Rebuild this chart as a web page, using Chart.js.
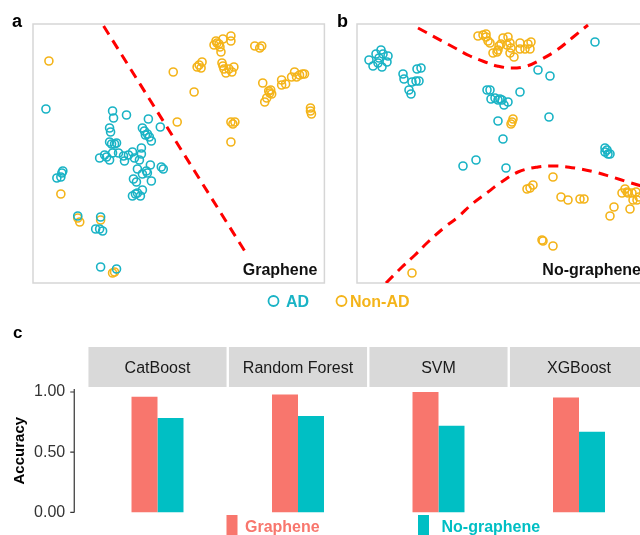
<!DOCTYPE html>
<html>
<head>
<meta charset="utf-8">
<script src="https://cdn.jsdelivr.net/npm/chart.js@4.4.1/dist/chart.umd.min.js"></script>
<style>
  html, body { margin: 0; padding: 0; background: #fff; overflow: hidden; width: 640px; height: 535px; }
  canvas { position: absolute; }
  #panelA { left: 0; top: 0; }
  #panelB { left: 330px; top: 0; }
  #panelC { left: 0; top: 288px; }
</style>
</head>
<body>
<canvas id="panelA" width="330" height="290"></canvas>
<canvas id="panelB" width="330" height="290"></canvas>
<canvas id="panelC" width="660" height="256"></canvas>
<script>
(function() {
    const FONT = "'Liberation Sans', Arial, Helvetica, sans-serif";
    Chart.defaults.font.family = FONT;

    const AD_COLOR = '#19B3C5';
    const NONAD_COLOR = '#F4B41A';
    const BOUNDARY_RED = '#FF0000';
    const GRAPHENE_FILL = '#F8766D';
    const NOGRAPHENE_FILL = '#00BFC4';

    // panel a: embedding of the graphene sensor data (plot units, y grows downward)
    const grapheneRangeX = [33, 326];
    const grapheneRangeY = [24, 283];
    const grapheneAD = [
        [46,109],[113,111],[114,118],[127,115],[149,119],[161,127],[110,128],[111,132],
        [143,128],[145,131],[148,134],[150,137],[152,141],[146,135],[110,142],[112,144],
        [115,144],[117,143],[100,158],[105,155],[107,157],[110,160],[113,153],[119,153],
        [124,156],[125,161],[129,155],[133,152],[135,158],[140,160],[142,154],[142,148],
        [138,169],[143,174],[147,171],[148,173],[151,165],[162,167],[164,169],[134,179],
        [137,182],[152,181],[133,196],[136,194],[138,193],[141,196],[143,190],[57,178],
        [61,177],[62,173],[63,171],[78,216],[101,217],[96,229],[100,229],[103,231],
        [101,267],[117,269]
    ];
    const grapheneNonAD = [
        [49,61],[174,72],[195,92],[178,122],[215,45],[217,41],[218,43],[220,44],[221,47],
        [222,52],[224,39],[232,36],[232,41],[200,65],[203,62],[202,68],[198,67],[223,63],
        [224,66],[225,69],[227,73],[230,69],[233,72],[235,67],[256,46],[261,48],[263,46],
        [264,83],[270,91],[272,90],[273,94],[271,93],[268,98],[266,102],[283,80],[283,85],
        [287,84],[293,77],[296,72],[298,77],[301,75],[304,74],[306,74],[312,108],[312,111],
        [313,114],[232,122],[234,124],[236,122],[232,142],[61,194],[78,218],[80,222],
        [101,220],[113,273],[115,272]
    ];
    const grapheneBoundary = [[104,26],[249,256]];

    // panel b: embedding without graphene
    const noGrapheneRangeX = [357, 648];
    const noGrapheneRangeY = [24, 283];
    const noGrapheneAD = [
        [369,60],[373,66],[376,54],[378,63],[381,50],[382,67],[383,54],[387,62],[388,56],
        [379,58],[403,74],[404,79],[409,90],[411,94],[412,82],[416,81],[417,69],[421,68],
        [419,81],[487,90],[490,90],[491,99],[495,98],[498,100],[500,99],[502,100],[504,105],
        [508,102],[520,92],[498,121],[503,139],[538,70],[550,76],[549,117],[595,42],
        [463,166],[476,160],[506,168],[605,148],[607,150],[605,152],[608,154],[610,154]
    ];
    const noGrapheneNonAD = [
        [478,36],[483,35],[486,37],[488,41],[490,43],[486,34],[493,53],[498,50],[499,46],
        [503,38],[508,37],[510,43],[507,45],[501,44],[497,52],[511,48],[510,53],[514,57],
        [520,43],[520,49],[525,49],[528,44],[531,42],[530,49],[511,124],[512,122],[513,119],
        [527,189],[530,188],[533,185],[553,177],[561,197],[568,200],[580,199],[584,199],
        [542,240],[543,241],[553,246],[610,216],[614,207],[630,209],[622,193],[625,189],
        [627,192],[628,193],[632,193],[633,200],[636,192],[637,200],[639,197],[412,273]
    ];
    const noGrapheneUpper = [
        [418,28],[442,41],[455,48],[470,56],[488,63],[497,66],[512,68],[527,66],[542,59],
        [557,50],[572,38],[588,25]
    ];
    const noGrapheneLower = [
        [386,283],[402,267],[415,255],[428,242],[445,227],[458,217],[472,204],[488,192],
        [500,183],[518,172],[538,167],[555,166],[575,168],[595,172],[612,177],[628,182],[648,188]
    ];

    // panel c: accuracy per model
    const models = ['CatBoost', 'Random Forest', 'SVM', 'XGBoost'];
    const accGraphene = [0.96, 0.98, 1.00, 0.955];
    const accNoGraphene = [0.785, 0.80, 0.72, 0.67];
    const accTicks = [0, 0.5, 1];

    const toXY = pts => pts.map(([x, y]) => ({ x, y }));

    // frame, panel letter and tag for the scatter panels
    const panelDeco = {
        id: 'panelDeco',
        beforeDatasetsDraw(chart) {
            const { ctx, chartArea: a } = chart;
            ctx.save();
            ctx.strokeStyle = '#D6D6D6';
            ctx.lineWidth = 1.5;
            ctx.strokeRect(a.left, a.top, a.right - a.left, a.bottom - a.top);
            ctx.restore();
        },
        afterDraw(chart, args, opts) {
            const { ctx, chartArea: a } = chart;
            ctx.save();
            ctx.fillStyle = '#000';
            ctx.textBaseline = 'alphabetic';
            ctx.font = 'bold 18px ' + FONT;
            ctx.textAlign = 'left';
            ctx.fillText(opts.letter, opts.letterX, 27);
            ctx.fillStyle = '#111';
            ctx.font = 'bold 16px ' + FONT;
            ctx.textAlign = 'right';
            ctx.fillText(opts.tag, a.right - 7, a.bottom - 8);
            ctx.restore();
        }
    };

    function scatterPanel(id, cfg) {
        const pointSet = (data, color) => ({
            data: toXY(data),
            borderColor: color,
            backgroundColor: 'rgba(0,0,0,0)',
            pointRadius: 4,
            pointBorderWidth: 1.6,
            showLine: false
        });
        const boundarySet = (data, tension) => ({
            data: toXY(data),
            showLine: true,
            borderColor: BOUNDARY_RED,
            borderWidth: 3,
            borderDash: [10, 7],
            pointRadius: 0,
            tension: tension,
            fill: false
        });
        const datasets = [pointSet(cfg.ad, AD_COLOR), pointSet(cfg.nonAd, NONAD_COLOR)];
        cfg.boundaries.forEach(b => datasets.push(boundarySet(b, cfg.tension)));

        return new Chart(document.getElementById(id), {
            type: 'scatter',
            data: { datasets },
            options: {
                responsive: false,
                animation: false,
                layout: { padding: cfg.padding },
                scales: {
                    x: { type: 'linear', display: false, min: cfg.rangeX[0], max: cfg.rangeX[1] },
                    y: { type: 'linear', display: false, min: cfg.rangeY[0], max: cfg.rangeY[1], reverse: true }
                },
                plugins: {
                    legend: { display: false },
                    tooltip: { enabled: false },
                    panelDeco: { letter: cfg.letter, letterX: cfg.letterX, tag: cfg.tag }
                }
            },
            plugins: [panelDeco]
        });
    }

    scatterPanel('panelA', {
        ad: grapheneAD, nonAd: grapheneNonAD, boundaries: [grapheneBoundary], tension: 0,
        rangeX: grapheneRangeX, rangeY: grapheneRangeY,
        padding: { left: 33, top: 24, right: 4, bottom: 7 },
        letter: 'a', letterX: 12, tag: 'Graphene'
    });

    scatterPanel('panelB', {
        ad: noGrapheneAD, nonAd: noGrapheneNonAD, boundaries: [noGrapheneUpper, noGrapheneLower], tension: 0.4,
        rangeX: noGrapheneRangeX, rangeY: noGrapheneRangeY,
        padding: { left: 27, top: 24, right: 12, bottom: 7 },
        letter: 'b', letterX: 7, tag: 'No-graphene'
    });

    // strips, axis line and both legends for panel c
    const facetDeco = {
        id: 'facetDeco',
        beforeDatasetsDraw(chart) {
            const { ctx, chartArea: a } = chart;
            const xs = chart.scales.x;
            const step = (a.right - a.left) / models.length;
            ctx.save();
            models.forEach((m, i) => {
                const cx = xs.getPixelForValue(i);
                ctx.fillStyle = '#D9D9D9';
                ctx.fillRect(cx - step / 2 + 1.2, 59, step - 2.4, 40);
                ctx.fillStyle = '#1A1A1A';
                ctx.font = '16px ' + FONT;
                ctx.textAlign = 'center';
                ctx.textBaseline = 'alphabetic';
                ctx.fillText(m, cx, 85);
            });

            // top legend for the scatter panels
            ctx.lineWidth = 1.8;
            ctx.font = 'bold 16px ' + FONT;
            ctx.textAlign = 'left';
            [[273.5, 286, 'AD', AD_COLOR], [341.5, 350, 'Non-AD', NONAD_COLOR]].forEach(([cx, tx, txt, col]) => {
                ctx.strokeStyle = col;
                ctx.beginPath();
                ctx.arc(cx, 13, 5, 0, Math.PI * 2);
                ctx.stroke();
                ctx.fillStyle = col;
                ctx.fillText(txt, tx, 19);
            });

            ctx.fillStyle = '#000';
            ctx.font = 'bold 17px ' + FONT;
            ctx.fillText('c', 13, 50);

            // bottom legend for the bars
            ctx.font = 'bold 16px ' + FONT;
            [[226.5, 245, 'Graphene', GRAPHENE_FILL], [418, 441.5, 'No-graphene', NOGRAPHENE_FILL]].forEach(([sx, tx, txt, col]) => {
                ctx.fillStyle = col;
                ctx.fillRect(sx, 227, 11, 22);
                ctx.fillText(txt, tx, 244);
            });
            ctx.restore();
        },
        afterDraw(chart) {
            const { ctx, chartArea: a } = chart;
            const ys = chart.scales.y;
            const ax = a.left - 13;
            ctx.save();
            ctx.strokeStyle = '#333';
            ctx.lineWidth = 1.2;
            ctx.beginPath();
            ctx.moveTo(ax, a.top);
            ctx.lineTo(ax, a.bottom);
            accTicks.forEach(v => {
                const y = ys.getPixelForValue(v);
                ctx.moveTo(ax - 4, y);
                ctx.lineTo(ax, y);
            });
            ctx.stroke();
            ctx.restore();
        }
    };

    new Chart(document.getElementById('panelC'), {
        type: 'bar',
        data: {
            labels: models,
            datasets: [
                { label: 'Graphene', data: accGraphene, backgroundColor: GRAPHENE_FILL, categoryPercentage: 0.37, barPercentage: 1 },
                { label: 'No-graphene', data: accNoGraphene, backgroundColor: NOGRAPHENE_FILL, categoryPercentage: 0.37, barPercentage: 1 }
            ]
        },
        options: {
            responsive: false,
            animation: false,
            // the tick labels' padding also reserves ~32px below the plot, so the canvas runs past the window
            layout: { padding: { left: 0, right: 10.75, top: 101, bottom: 12 } },
            scales: {
                x: { display: false },
                y: {
                    min: 0,
                    max: 1.025,
                    afterFit(scale) { scale.width = 87.25; },
                    afterBuildTicks(scale) { scale.ticks = accTicks.map(v => ({ value: v })); },
                    grid: { display: false, drawTicks: false },
                    border: { display: false },
                    ticks: { padding: 22, color: '#333', font: { size: 16 }, callback: v => Number(v).toFixed(2) },
                    title: {
                        display: true, text: 'Accuracy', color: '#000',
                        font: { size: 15, weight: 'bold' }, padding: { top: 11, bottom: 0 }
                    }
                }
            },
            plugins: {
                legend: { display: false },
                tooltip: { enabled: false }
            }
        },
        plugins: [facetDeco]
    });
})();
</script>
</body>
</html>
